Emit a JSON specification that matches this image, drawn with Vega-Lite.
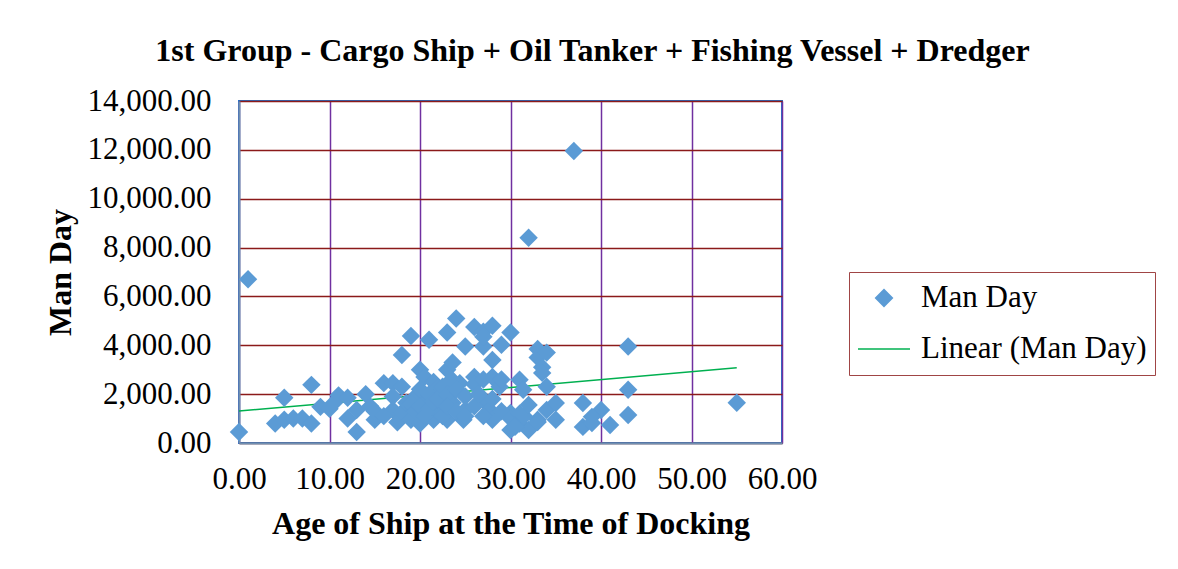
{
  "$schema": "https://vega.github.io/schema/vega-lite/v6.json",
  "width": 543,
  "height": 342,
  "autosize": {"type": "none"},
  "padding": {"left": 239, "top": 101, "right": 396, "bottom": 126},
  "background": "white",
  "title": {
    "text": "1st Group - Cargo Ship + Oil Tanker + Fishing Vessel + Dredger",
    "font": "Liberation Serif",
    "fontSize": 32,
    "fontWeight": "bold",
    "color": "black",
    "dx": 82,
    "offset": 17
  },
  "datasets": {
    "points": [
      {"age": 0, "manday": 450}, {"age": 1, "manday": 6700}, {"age": 37, "manday": 11950}, {"age": 32, "manday": 8400}, {"age": 55, "manday": 1650},
      {"age": 4, "manday": 800}, {"age": 5, "manday": 1850}, {"age": 5, "manday": 950}, {"age": 6, "manday": 1000}, {"age": 7, "manday": 1000},
      {"age": 8, "manday": 800}, {"age": 8, "manday": 2380}, {"age": 9, "manday": 1480}, {"age": 10, "manday": 1400}, {"age": 10.5, "manday": 1650},
      {"age": 11, "manday": 1950}, {"age": 12, "manday": 1000}, {"age": 12, "manday": 1850}, {"age": 13, "manday": 450}, {"age": 13, "manday": 1350},
      {"age": 14, "manday": 2000}, {"age": 14.5, "manday": 1500}, {"age": 15, "manday": 950}, {"age": 15, "manday": 1300}, {"age": 16, "manday": 2450},
      {"age": 17, "manday": 2450}, {"age": 17, "manday": 1350}, {"age": 17.5, "manday": 850}, {"age": 18, "manday": 3600}, {"age": 18, "manday": 1250},
      {"age": 18.5, "manday": 1650}, {"age": 19, "manday": 4380}, {"age": 19, "manday": 950}, {"age": 19.5, "manday": 1900}, {"age": 20, "manday": 3000},
      {"age": 20, "manday": 800}, {"age": 20.5, "manday": 2700}, {"age": 21, "manday": 4230}, {"age": 21, "manday": 1800}, {"age": 21.5, "manday": 2500},
      {"age": 21.5, "manday": 950}, {"age": 22, "manday": 2250}, {"age": 22, "manday": 1250}, {"age": 22, "manday": 1400}, {"age": 23, "manday": 4520},
      {"age": 23, "manday": 3000}, {"age": 23, "manday": 950}, {"age": 23.6, "manday": 3300}, {"age": 23.6, "manday": 1650}, {"age": 24, "manday": 5100},
      {"age": 24.4, "manday": 2450}, {"age": 24.8, "manday": 950}, {"age": 25, "manday": 3950}, {"age": 25, "manday": 1350}, {"age": 26, "manday": 4750},
      {"age": 26, "manday": 2700}, {"age": 27, "manday": 4560}, {"age": 27, "manday": 3950}, {"age": 27, "manday": 1750}, {"age": 27.7, "manday": 1350},
      {"age": 28, "manday": 4800}, {"age": 28, "manday": 3400}, {"age": 28, "manday": 2700}, {"age": 28, "manday": 950}, {"age": 28.8, "manday": 2300},
      {"age": 29, "manday": 4020}, {"age": 30, "manday": 4520}, {"age": 30, "manday": 1230}, {"age": 30, "manday": 530}, {"age": 31, "manday": 2590},
      {"age": 31, "manday": 800}, {"age": 31.4, "manday": 2180}, {"age": 32, "manday": 530}, {"age": 33, "manday": 950}, {"age": 33, "manday": 3850},
      {"age": 33, "manday": 3500}, {"age": 33.5, "manday": 3100}, {"age": 33.5, "manday": 2870}, {"age": 34, "manday": 3700}, {"age": 34, "manday": 2300},
      {"age": 34, "manday": 1350}, {"age": 35, "manday": 1640}, {"age": 35, "manday": 950}, {"age": 38, "manday": 1640}, {"age": 38, "manday": 660},
      {"age": 39, "manday": 820}, {"age": 40, "manday": 1350}, {"age": 41, "manday": 740}, {"age": 43, "manday": 3950}, {"age": 43, "manday": 2180},
      {"age": 43, "manday": 1150},
      {"age": 19, "manday": 1600}, {"age": 19.5, "manday": 1300}, {"age": 20, "manday": 2200}, {"age": 20, "manday": 1500}, {"age": 20.5, "manday": 1100},
      {"age": 21, "manday": 2000}, {"age": 21, "manday": 1400}, {"age": 21.5, "manday": 1700}, {"age": 22, "manday": 1800}, {"age": 22.5, "manday": 2300},
      {"age": 22.5, "manday": 1100}, {"age": 23, "manday": 2000}, {"age": 23, "manday": 1500}, {"age": 23.5, "manday": 2600}, {"age": 24, "manday": 2200},
      {"age": 24, "manday": 1300}, {"age": 25, "manday": 1900}, {"age": 25, "manday": 1100}, {"age": 26, "manday": 2400}, {"age": 26, "manday": 1500},
      {"age": 26.5, "manday": 2000}, {"age": 27, "manday": 2600}, {"age": 27, "manday": 1100}, {"age": 28, "manday": 1800}, {"age": 29, "manday": 2600},
      {"age": 29, "manday": 1300}, {"age": 30, "manday": 1000}, {"age": 31, "manday": 1200}, {"age": 31.5, "manday": 1100}, {"age": 27, "manday": 4350},
      {"age": 33, "manday": 860}, {"age": 30.5, "manday": 660}, {"age": 32, "manday": 1560}, {"age": 39, "manday": 1070}, {"age": 18, "manday": 2300},
      {"age": 16, "manday": 1100}, {"age": 17, "manday": 1900}
    ],
    "trend": [
      {"age": 0, "manday": 1310},
      {"age": 55, "manday": 3080}
    ]
  },
  "layer": [
    {
      "data": {"name": "trend"},
      "mark": {"type": "line", "strokeWidth": 1.5},
      "encoding": {
        "x": {"field": "age", "type": "quantitative"},
        "y": {"field": "manday", "type": "quantitative"},
        "color": {"datum": "Linear (Man Day)", "type": "nominal"}
      }
    },
    {
      "data": {"name": "points"},
      "mark": {"type": "point", "shape": "diamond", "filled": true, "opacity": 1, "size": 340},
      "encoding": {
        "x": {
          "field": "age", "type": "quantitative",
          "scale": {"domain": [0, 60], "nice": false},
          "axis": {
            "title": "Age of Ship at the Time of Docking",
            "values": [0, 10, 20, 30, 40, 50, 60],
            "format": ",.2f",
            "labelOverlap": false,
            "labelFlush": false,
            "labelPadding": 21,
            "titlePadding": 14,
            "gridColor": "#7030A0"
          }
        },
        "y": {
          "field": "manday", "type": "quantitative",
          "scale": {"domain": [0, 14000], "nice": false},
          "axis": {
            "title": "Man Day",
            "values": [0, 2000, 4000, 6000, 8000, 10000, 12000, 14000],
            "format": ",.2f",
            "labelOverlap": false,
            "labelFlush": false,
            "labelPadding": 28,
            "titleX": -179,
            "titleBaseline": "middle",
            "gridColor": "#8B1A1A"
          }
        },
        "color": {
          "datum": "Man Day", "type": "nominal",
          "scale": {"domain": ["Man Day", "Linear (Man Day)"], "range": ["#5B9BD5", "#00B050"]},
          "legend": {
            "title": null,
            "orient": "none",
            "legendX": 610,
            "legendY": 171,
            "padding": 8,
            "strokeColor": "#A04545",
            "clipHeight": 36,
            "rowPadding": 15,
            "labelOffset": 10,
            "symbolType": {"expr": "datum.value == 'Man Day' ? 'diamond' : 'stroke'"},
            "symbolSize": {"expr": "datum.value == 'Man Day' ? 280 : 2704"},
            "symbolStrokeWidth": 1.5
          }
        }
      }
    }
  ],
  "config": {
    "font": "Liberation Serif",
    "view": {"stroke": "#2472C8", "strokeWidth": 2},
    "axis": {
      "labelFont": "Liberation Serif",
      "labelFontSize": 31,
      "labelColor": "black",
      "titleFont": "Liberation Serif",
      "titleFontSize": 32,
      "titleFontWeight": "bold",
      "titleColor": "black",
      "ticks": false,
      "domainColor": "#6F8FB0",
      "domainWidth": 2,
      "gridOpacity": 1,
      "gridWidth": 1.5
    },
    "legend": {
      "labelFont": "Liberation Serif",
      "labelFontSize": 31,
      "labelColor": "black",
      "labelLimit": 400
    }
  }
}
